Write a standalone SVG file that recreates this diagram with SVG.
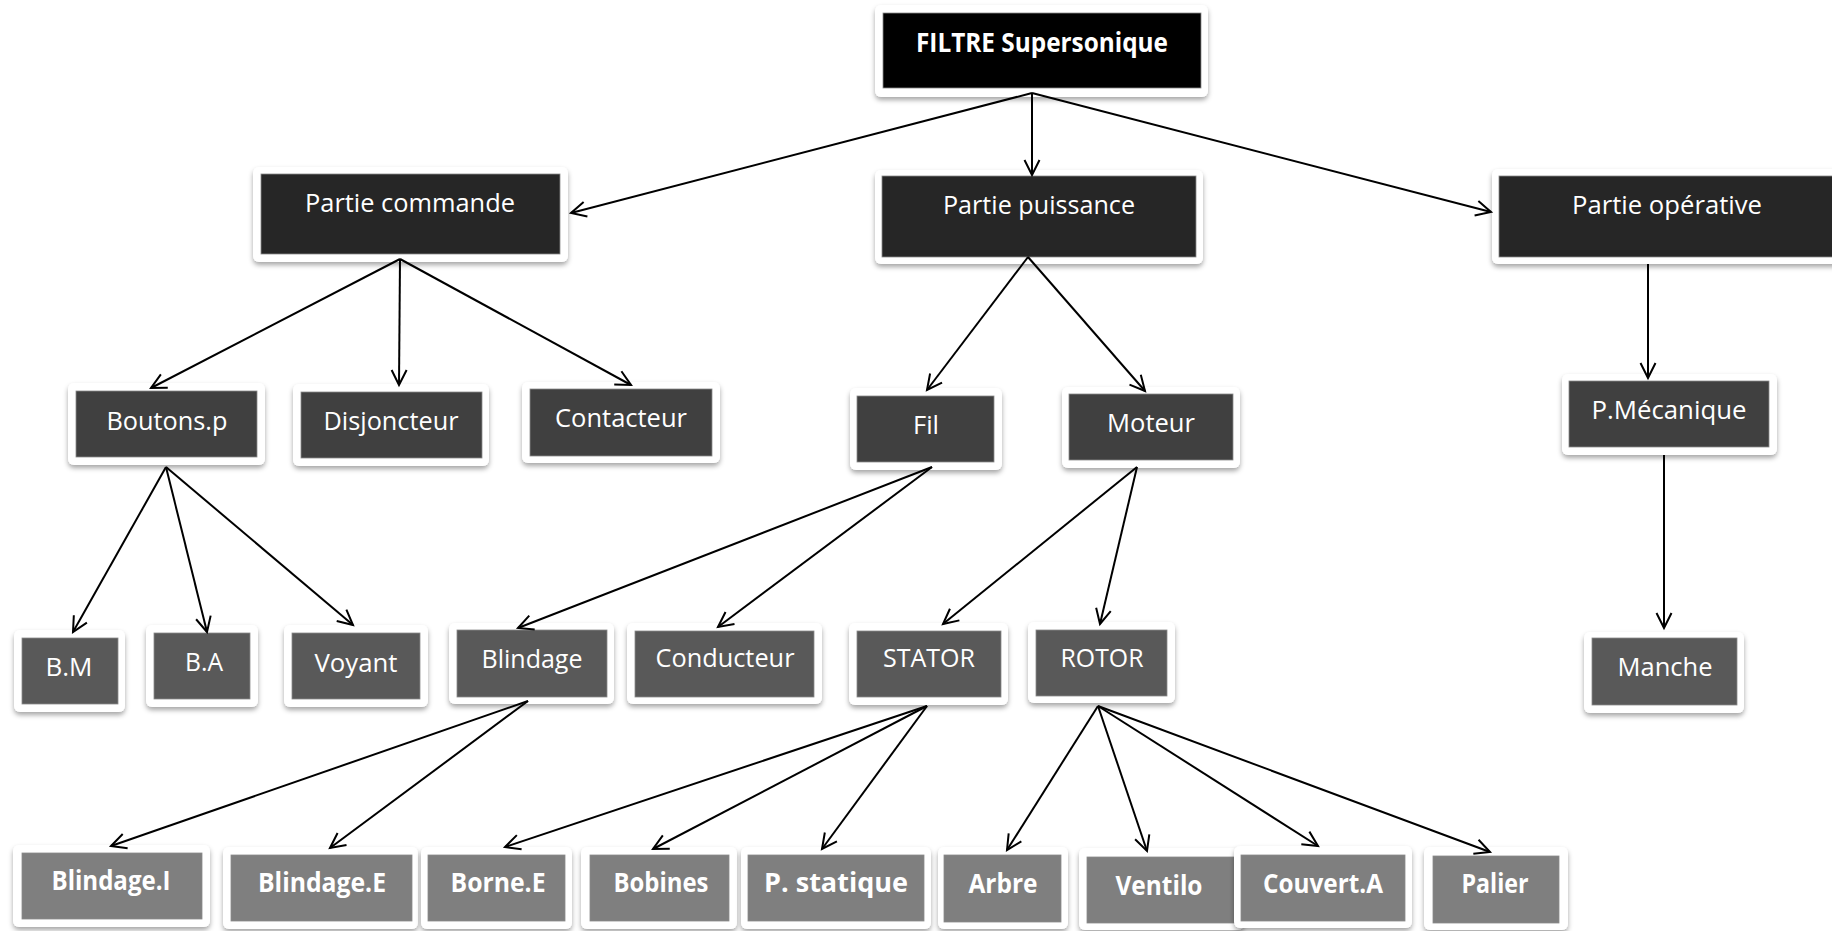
<svg xmlns="http://www.w3.org/2000/svg" width="1832" height="931" viewBox="0 0 1832 931">
  <defs>
    <filter id="shadow" x="-10%" y="-20%" width="120%" height="150%">
      <feDropShadow dx="0" dy="3" stdDeviation="2.5" flood-color="#000" flood-opacity="0.35"/>
    </filter>
    <marker id="arrow" markerUnits="userSpaceOnUse" markerWidth="20" markerHeight="20" viewBox="-16 -10 20 20" refX="0" refY="0" orient="auto">
      <path d="M-15,-7.5 L0,0 L-15,7.5" fill="none" stroke="#000" stroke-width="2"/>
    </marker>
  </defs>
  <style>
    .frame { fill: #ffffff; filter: url(#shadow); }
    .l0 { fill: #000000; }
    .l1 { fill: #262626; }
    .l2 { fill: #404040; }
    .l3 { fill: #595959; }
    .l4 { fill: #7f7f7f; }
    .inner { stroke: #8a8a8a; stroke-width: 0.8; }
    text { fill: #ffffff; font-family: "Open Sans", "Noto Sans", "Liberation Sans", sans-serif; text-anchor: middle; }
    .t { font-size: 26px; }
    .b { font-size: 26px; font-weight: bold; }
    .conn line { stroke: #000; stroke-width: 2; marker-end: url(#arrow); }
  </style>

  <rect width="1832" height="931" fill="#ffffff"/>

  <!-- root -->
  <g id="filtre">
    <rect class="frame" x="875" y="5" width="333" height="92" rx="6"/>
    <rect class="l0 inner" x="883" y="13" width="318" height="75"/>
    <text class="b" x="1042" y="52" textLength="252" lengthAdjust="spacingAndGlyphs">FILTRE Supersonique</text>
  </g>

  <!-- first level -->
  <g id="partie-commande">
    <rect class="frame" x="253" y="167" width="315" height="95" rx="6"/>
    <rect class="l1 inner" x="261" y="174" width="299" height="80"/>
    <text class="t" x="410" y="212" textLength="210" lengthAdjust="spacingAndGlyphs">Partie commande</text>
  </g>
  <g id="partie-puissance">
    <rect class="frame" x="875" y="170" width="328" height="94" rx="6"/>
    <rect class="l1 inner" x="882" y="176" width="314" height="81"/>
    <text class="t" x="1039" y="214" textLength="192" lengthAdjust="spacingAndGlyphs">Partie puissance</text>
  </g>
  <g id="partie-operative">
    <rect class="frame" x="1492" y="169" width="360" height="95" rx="6"/>
    <rect class="l1 inner" x="1499" y="176" width="350" height="81"/>
    <text class="t" x="1667" y="214" textLength="190" lengthAdjust="spacingAndGlyphs">Partie opérative</text>
  </g>

  <!-- second level -->
  <g id="boutons-p">
    <rect class="frame" x="68" y="383" width="197" height="82" rx="6"/>
    <rect class="l2 inner" x="76" y="391" width="181" height="66"/>
    <text class="t" x="167" y="430" textLength="121" lengthAdjust="spacingAndGlyphs">Boutons.p</text>
  </g>
  <g id="disjoncteur">
    <rect class="frame" x="293" y="384" width="196" height="82" rx="6"/>
    <rect class="l2 inner" x="301" y="392" width="181" height="66"/>
    <text class="t" x="391" y="430" textLength="135" lengthAdjust="spacingAndGlyphs">Disjoncteur</text>
  </g>
  <g id="contacteur">
    <rect class="frame" x="522" y="382" width="198" height="81" rx="6"/>
    <rect class="l2 inner" x="530" y="389" width="182" height="67"/>
    <text class="t" x="621" y="427" textLength="132" lengthAdjust="spacingAndGlyphs">Contacteur</text>
  </g>
  <g id="fil">
    <rect class="frame" x="850" y="388" width="152" height="82" rx="6"/>
    <rect class="l2 inner" x="857" y="396" width="137" height="66"/>
    <text class="t" x="926" y="434" textLength="26" lengthAdjust="spacingAndGlyphs">Fil</text>
  </g>
  <g id="moteur">
    <rect class="frame" x="1062" y="387" width="178" height="81" rx="6"/>
    <rect class="l2 inner" x="1069" y="394" width="164" height="66"/>
    <text class="t" x="1151" y="432" textLength="88" lengthAdjust="spacingAndGlyphs">Moteur</text>
  </g>
  <g id="p-mecanique">
    <rect class="frame" x="1562" y="374" width="215" height="81" rx="6"/>
    <rect class="l2 inner" x="1569" y="381" width="200" height="66"/>
    <text class="t" x="1669" y="419" textLength="155" lengthAdjust="spacingAndGlyphs">P.Mécanique</text>
  </g>

  <!-- third level -->
  <g id="b-m">
    <rect class="frame" x="14" y="630" width="111" height="82" rx="6"/>
    <rect class="l3 inner" x="22" y="638" width="96" height="66"/>
    <text class="t" x="69" y="676" textLength="47" lengthAdjust="spacingAndGlyphs">B.M</text>
  </g>
  <g id="b-a">
    <rect class="frame" x="146" y="625" width="112" height="82" rx="6"/>
    <rect class="l3 inner" x="154" y="633" width="96" height="66"/>
    <text class="t" x="204" y="671" textLength="38" lengthAdjust="spacingAndGlyphs">B.A</text>
  </g>
  <g id="voyant">
    <rect class="frame" x="284" y="625" width="144" height="82" rx="6"/>
    <rect class="l3 inner" x="292" y="633" width="128" height="66"/>
    <text class="t" x="356" y="672" textLength="83" lengthAdjust="spacingAndGlyphs">Voyant</text>
  </g>
  <g id="blindage">
    <rect class="frame" x="449" y="623" width="165" height="81" rx="6"/>
    <rect class="l3 inner" x="457" y="630" width="150" height="67"/>
    <text class="t" x="532" y="668" textLength="101" lengthAdjust="spacingAndGlyphs">Blindage</text>
  </g>
  <g id="conducteur">
    <rect class="frame" x="627" y="623" width="195" height="81" rx="6"/>
    <rect class="l3 inner" x="635" y="631" width="179" height="66"/>
    <text class="t" x="725" y="667" textLength="139" lengthAdjust="spacingAndGlyphs">Conducteur</text>
  </g>
  <g id="stator">
    <rect class="frame" x="849" y="623" width="159" height="82" rx="6"/>
    <rect class="l3 inner" x="857" y="631" width="144" height="66"/>
    <text class="t" x="929" y="667" textLength="92" lengthAdjust="spacingAndGlyphs">STATOR</text>
  </g>
  <g id="rotor">
    <rect class="frame" x="1028" y="622" width="147" height="81" rx="6"/>
    <rect class="l3 inner" x="1036" y="630" width="131" height="66"/>
    <text class="t" x="1102" y="667" textLength="83" lengthAdjust="spacingAndGlyphs">ROTOR</text>
  </g>
  <g id="manche">
    <rect class="frame" x="1584" y="632" width="160" height="81" rx="6"/>
    <rect class="l3 inner" x="1592" y="638" width="145" height="67"/>
    <text class="t" x="1665" y="676" textLength="95" lengthAdjust="spacingAndGlyphs">Manche</text>
  </g>

  <!-- fourth level -->
  <g id="blindage-i">
    <rect class="frame" x="13" y="845" width="197" height="82" rx="6"/>
    <rect class="l4 inner" x="22" y="853" width="180" height="66"/>
    <text class="b" x="111" y="890" textLength="119" lengthAdjust="spacingAndGlyphs">Blindage.I</text>
  </g>
  <g id="blindage-e">
    <rect class="frame" x="223" y="847" width="195" height="82" rx="6"/>
    <rect class="l4 inner" x="231" y="855" width="181" height="66"/>
    <text class="b" x="322" y="892" textLength="128" lengthAdjust="spacingAndGlyphs">Blindage.E</text>
  </g>
  <g id="borne-e">
    <rect class="frame" x="421" y="847" width="151" height="82" rx="6"/>
    <rect class="l4 inner" x="428" y="855" width="137" height="66"/>
    <text class="b" x="498" y="892" textLength="95" lengthAdjust="spacingAndGlyphs">Borne.E</text>
  </g>
  <g id="bobines">
    <rect class="frame" x="581" y="847" width="156" height="82" rx="6"/>
    <rect class="l4 inner" x="590" y="855" width="139" height="66"/>
    <text class="b" x="661" y="892" textLength="95" lengthAdjust="spacingAndGlyphs">Bobines</text>
  </g>
  <g id="p-statique">
    <rect class="frame" x="741" y="847" width="190" height="82" rx="6"/>
    <rect class="l4 inner" x="748" y="855" width="176" height="66"/>
    <text class="b" x="836" y="892" textLength="144" lengthAdjust="spacingAndGlyphs">P. statique</text>
  </g>
  <g id="arbre">
    <rect class="frame" x="938" y="847" width="130" height="82" rx="6"/>
    <rect class="l4 inner" x="944" y="855" width="117" height="67"/>
    <text class="b" x="1003" y="893" textLength="69" lengthAdjust="spacingAndGlyphs">Arbre</text>
  </g>
  <g id="ventilo">
    <rect class="frame" x="1079" y="848" width="165" height="82" rx="6"/>
    <rect class="l4 inner" x="1087" y="857" width="153" height="66"/>
    <text class="b" x="1159" y="895" textLength="87" lengthAdjust="spacingAndGlyphs">Ventilo</text>
  </g>
  <g id="couvert-a">
    <rect class="frame" x="1234" y="846" width="178" height="82" rx="6"/>
    <rect class="l4 inner" x="1241" y="855" width="164" height="66"/>
    <text class="b" x="1323" y="893" textLength="120" lengthAdjust="spacingAndGlyphs">Couvert.A</text>
  </g>
  <g id="palier">
    <rect class="frame" x="1424" y="847" width="144" height="83" rx="6"/>
    <rect class="l4 inner" x="1433" y="856" width="126" height="67"/>
    <text class="b" x="1495" y="893" textLength="67" lengthAdjust="spacingAndGlyphs">Palier</text>
  </g>

  <!-- connectors, drawn last so the arrowheads sit over the white frames -->
  <g id="connectors" class="conn">
    <line x1="1032" y1="93" x2="571" y2="213"/>
    <line x1="1032" y1="93" x2="1032" y2="175"/>
    <line x1="1032" y1="93" x2="1491" y2="212"/>

    <line x1="400" y1="259" x2="151" y2="388"/>
    <line x1="400" y1="259" x2="399" y2="385"/>
    <line x1="400" y1="259" x2="631" y2="385"/>

    <line x1="1028" y1="257" x2="927" y2="390"/>
    <line x1="1028" y1="257" x2="1145" y2="391"/>

    <line x1="1648" y1="264" x2="1648" y2="378"/>

    <line x1="166" y1="467" x2="73" y2="632"/>
    <line x1="166" y1="467" x2="207" y2="632"/>
    <line x1="166" y1="467" x2="353" y2="625"/>

    <line x1="932" y1="467" x2="518" y2="628"/>
    <line x1="932" y1="467" x2="718" y2="627"/>

    <line x1="1137" y1="467" x2="943" y2="624"/>
    <line x1="1137" y1="467" x2="1100" y2="624"/>

    <line x1="1664" y1="455" x2="1664" y2="628"/>

    <line x1="528" y1="701" x2="111" y2="846"/>
    <line x1="528" y1="701" x2="330" y2="848"/>

    <line x1="927" y1="706" x2="505" y2="847"/>
    <line x1="927" y1="706" x2="653" y2="849"/>
    <line x1="927" y1="706" x2="822" y2="849"/>

    <line x1="1098" y1="706" x2="1007" y2="850"/>
    <line x1="1098" y1="706" x2="1147" y2="851"/>
    <line x1="1098" y1="706" x2="1318" y2="846"/>
    <line x1="1098" y1="706" x2="1490" y2="852"/>
  </g>
</svg>
